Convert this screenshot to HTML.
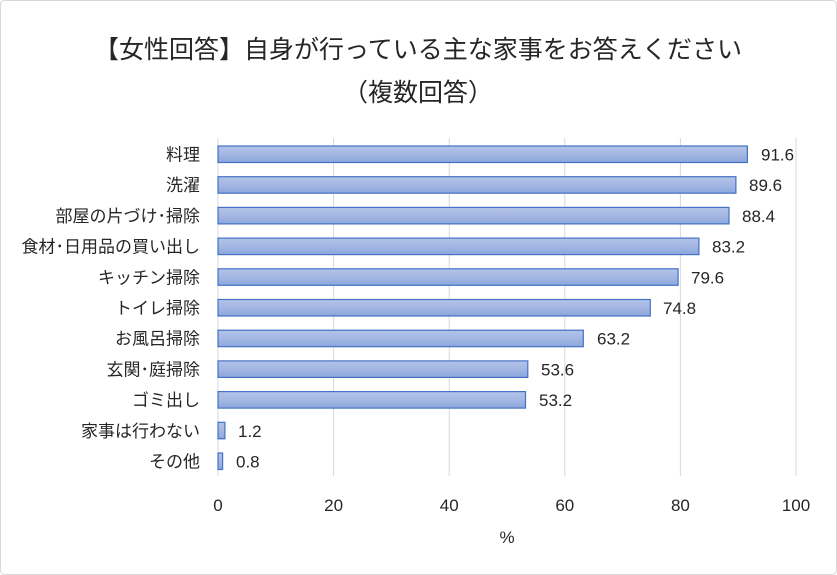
<!DOCTYPE html>
<html><head><meta charset="utf-8"><style>
html,body{margin:0;padding:0;background:#fff}
svg{display:block}
text{font-family:"Liberation Sans","Noto Sans CJK JP",sans-serif;fill:#262626}
</style></head><body>
<svg width="837" height="575" viewBox="0 0 837 575" xmlns="http://www.w3.org/2000/svg">
<defs><linearGradient id="g" x1="0" y1="0" x2="0" y2="1">
<stop offset="0" stop-color="#b4c4e8"/><stop offset="0.5" stop-color="#a3b7e3"/><stop offset="1" stop-color="#8ca6dc"/></linearGradient></defs>
<rect x="0.5" y="0.5" width="836" height="574" rx="4" fill="#fff" stroke="#d9d9d9"/>
<text x="418" y="58" font-size="25" text-anchor="middle">【女性回答】自身が行っている主な家事をお答えください</text>
<text x="418" y="101" font-size="25" text-anchor="middle">（複数回答）</text>
<g stroke="#d9d9d9" stroke-width="1">
<line x1="333.6" y1="138" x2="333.6" y2="476"/><line x1="449.2" y1="138" x2="449.2" y2="476"/>
<line x1="564.8" y1="138" x2="564.8" y2="476"/><line x1="680.4" y1="138" x2="680.4" y2="476"/>
<line x1="796" y1="138" x2="796" y2="476"/>
</g>
<line x1="218" y1="138" x2="218" y2="476" stroke="#d9d9d9"/>
<g font-size="17" text-anchor="middle">
<text x="218" y="511">0</text><text x="333.6" y="511">20</text><text x="449.2" y="511">40</text><text x="564.8" y="511">60</text><text x="680.4" y="511">80</text><text x="796" y="511">100</text>
<text x="507" y="543">%</text>
</g>
<g stroke="#4472c4" stroke-width="1.2" fill="url(#g)">
<rect x="218" y="146" width="529.4" height="16.5"/>
<rect x="218" y="176.7" width="517.9" height="16.5"/>
<rect x="218" y="207.4" width="511" height="16.5"/>
<rect x="218" y="238.1" width="480.9" height="16.5"/>
<rect x="218" y="268.8" width="460.1" height="16.5"/>
<rect x="218" y="299.5" width="432.3" height="16.5"/>
<rect x="218" y="330.2" width="365.3" height="16.5"/>
<rect x="218" y="360.9" width="309.8" height="16.5"/>
<rect x="218" y="391.6" width="307.5" height="16.5"/>
<rect x="218" y="422.3" width="6.9" height="16.5"/>
<rect x="218" y="453" width="4.6" height="16.5"/>
</g>
<g font-size="17" text-anchor="end">
<text x="200" y="160.5">料理</text><text x="200" y="191.2">洗濯</text><text x="200" y="221.9">部屋の片づけ･掃除</text>
<text x="200" y="252.6">食材･日用品の買い出し</text><text x="200" y="283.3">キッチン掃除</text><text x="200" y="314">トイレ掃除</text>
<text x="200" y="344.7">お風呂掃除</text><text x="200" y="375.4">玄関･庭掃除</text><text x="200" y="406.1">ゴミ出し</text>
<text x="200" y="436.8">家事は行わない</text><text x="200" y="467.5">その他</text>
</g>
<g font-size="17">
<text x="761" y="160.5">91.6</text><text x="749" y="191.2">89.6</text><text x="742" y="221.9">88.4</text>
<text x="712" y="252.6">83.2</text><text x="691" y="283.3">79.6</text><text x="663" y="314">74.8</text>
<text x="597" y="344.7">63.2</text><text x="541" y="375.4">53.6</text><text x="539" y="406.1">53.2</text>
<text x="238" y="436.8">1.2</text><text x="236" y="467.5">0.8</text>
</g>
</svg>
</body></html>
